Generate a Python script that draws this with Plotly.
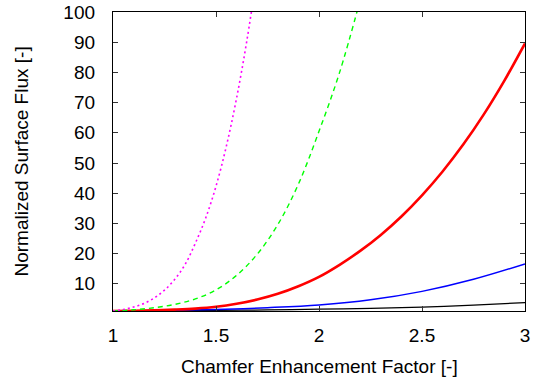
import plotly.graph_objects as go

# Data
x_black = [1.0, 1.25, 1.5, 1.75, 2.0, 2.25, 2.5, 2.75, 3.0]
y_black = [1.0, 1.08, 1.2, 1.35, 1.6, 1.9, 2.3, 2.95, 3.8]

x_blue = [1.0, 1.25, 1.5, 1.75, 2.0, 2.25, 2.5, 2.75, 3.0]
y_blue = [1.0, 1.2, 1.5, 2.1, 3.0, 4.7, 7.5, 11.5, 16.6]

x_red = [1.0, 1.1, 1.2, 1.3, 1.4, 1.5, 1.6, 1.7, 1.8, 1.9, 2.0,
         2.1, 2.2, 2.3, 2.4, 2.5, 2.6, 2.7, 2.8, 2.9, 3.0]
y_red = [1.0, 1.07, 1.2, 1.45, 1.8, 2.4, 3.4, 4.8, 6.7, 9.2, 12.3,
         16.3, 20.9, 26.2, 32.3, 39.3, 47.2, 56.1, 66.1, 77.3, 89.6]

x_green = [1.0, 1.1, 1.2, 1.3, 1.4, 1.5, 1.6, 1.7, 1.8, 1.9, 2.0, 2.1, 2.2]
y_green = [1.0, 1.4, 2.1, 3.2, 5.0, 8.0, 12.8, 19.8, 29.6, 43.0, 60.5, 80.0, 104.0]

x_magenta = [1.0, 1.05, 1.1, 1.15, 1.2, 1.25, 1.3, 1.35, 1.4, 1.45,
             1.5, 1.55, 1.6, 1.65, 1.7]
y_magenta = [1.0, 1.5, 2.3, 3.5, 5.3, 7.9, 11.5, 16.4, 23.5, 31.8,
             42.3, 55.5, 71.5, 90.6, 113.0]

x_ticks = [1, 1.5, 2, 2.5, 3]
x_tick_labels = ["1", "1.5", "2", "2.5", "3"]
y_ticks = [10, 20, 30, 40, 50, 60, 70, 80, 90, 100]
y_tick_labels = [str(v) for v in y_ticks]

x_title = "Chamfer Enhancement Factor [-]"
y_title = "Normalized Surface Flux [-]"

FONT = "Liberation Sans, Arial, sans-serif"

fig = go.Figure()
fig.add_trace(go.Scatter(x=x_black, y=y_black, mode="lines", line=dict(color="#000000", width=1.2, shape="spline")))
fig.add_trace(go.Scatter(x=x_blue, y=y_blue, mode="lines", line=dict(color="#0000ff", width=1.5, shape="spline")))
fig.add_trace(go.Scatter(x=x_red, y=y_red, mode="lines", line=dict(color="#ff0000", width=2.6, shape="spline")))
fig.add_trace(go.Scatter(x=x_green, y=y_green, mode="lines", line=dict(color="#00ff00", width=1.4, dash="5px,4px", shape="spline")))
fig.add_trace(go.Scatter(x=x_magenta, y=y_magenta, mode="lines", line=dict(color="#ff00ff", width=1.6, dash="2px,3px", shape="spline")))

axis_common = dict(
    showline=True, linecolor="black", linewidth=1.3, mirror="allticks",
    ticks="inside", ticklen=5, tickwidth=1, tickcolor="#333333",
    showgrid=False, zeroline=False, automargin=False,
    tickfont=dict(family=FONT, size=19, color="black"),
)

fig.update_layout(
    template="none",
    width=533, height=383,
    margin=dict(l=113, r=8, t=12, b=72),
    paper_bgcolor="white", plot_bgcolor="white",
    showlegend=False,
    xaxis=dict(range=[1, 3], tickvals=x_ticks, ticktext=x_tick_labels,
               ticklabelstandoff=7, **axis_common),
    yaxis=dict(range=[1, 100], tickvals=y_ticks, ticktext=y_tick_labels,
               ticklabelstandoff=13, **axis_common),
    annotations=[
        dict(text=x_title, xref="paper", yref="paper", x=0.5, y=0, yshift=-55,
             showarrow=False, xanchor="center", yanchor="middle",
             font=dict(family=FONT, size=19, color="black")),
        dict(text=y_title, xref="paper", yref="paper", x=0, y=0.5, xshift=-92,
             showarrow=False, xanchor="center", yanchor="middle", textangle=-90,
             font=dict(family=FONT, size=19, color="black")),
    ],
)

fig.write_html("out.html", config={"displayModeBar": False},
               post_script="document.body.style.margin='0';document.body.style.overflow='hidden';")
